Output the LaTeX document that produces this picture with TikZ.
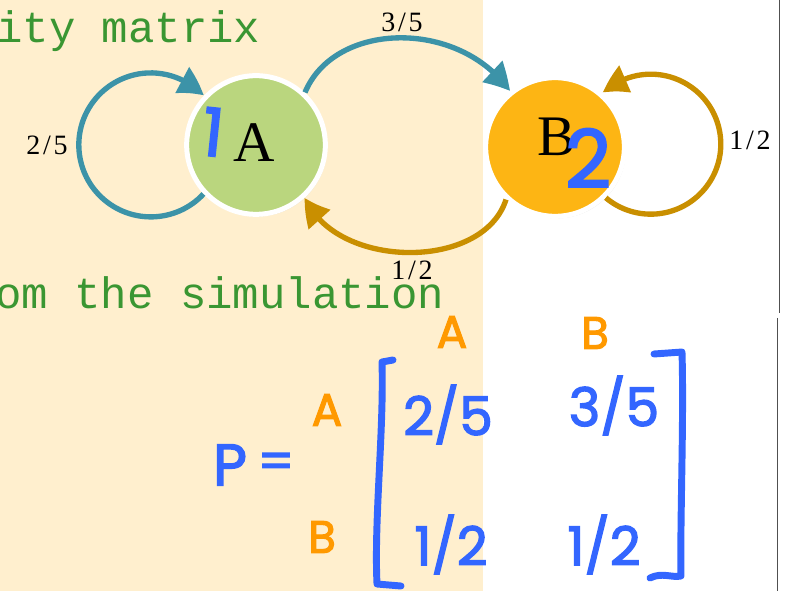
\documentclass[tikz,border=0pt]{standalone}
\usepackage{fontspec}
\setmainfont{Liberation Serif}
\newfontfamily\hand{Poppins}[FakeBold=2.5]
\newfontfamily\monofont{Liberation Mono}
\usetikzlibrary{arrows.meta,shadows,bending}
\definecolor{bg}{RGB}{255,239,206}
\definecolor{txtgreen}{RGB}{58,150,50}
\definecolor{nodegreen}{RGB}{186,214,126}
\definecolor{nodeorange}{RGB}{253,181,20}
\definecolor{teal}{RGB}{60,147,168}
\definecolor{gold}{RGB}{201,143,0}
\definecolor{penblue}{RGB}{51,102,255}
\definecolor{penorange}{RGB}{255,153,0}
\definecolor{rulegray}{RGB}{80,80,80}
\tikzset{
  monotext/.style={font=\monofont\fontsize{33pt}{36pt}\selectfont, text=txtgreen, anchor=base west, inner sep=0pt},
  statecirc/.style={circle, draw=white, line width=3.75pt, minimum size=104pt, inner sep=0pt,
    drop shadow={opacity=0.25, shadow xshift=1.2pt, shadow yshift=-1.5pt}},
  stateletter/.style={font=\fontsize{43pt}{45pt}\selectfont, inner sep=0pt, text depth=0pt},
  problabel/.style={font=\fontsize{21pt}{23pt}\selectfont, inner sep=0pt, text depth=0pt},
  tealarrow/.style={draw=teal, line width=4pt, -{Triangle[length=20pt,width=21pt,bend]}, fill=none},
  goldarrow/.style={draw=gold, line width=4pt, -{Triangle[length=20pt,width=21pt,bend]}, fill=none},
  handblue/.style={font=\hand\fontsize{40pt}{44pt}\selectfont, text=penblue, inner sep=0pt, text depth=0pt},
  handorange/.style={font=\hand\fontsize{34pt}{36pt}\selectfont, text=penorange, inner sep=0pt, text depth=0pt},
  penstroke/.style={draw=penblue, line width=5.2pt, line cap=round, line join=round},
  rule/.style={draw=rulegray, line width=1.2pt}
}
\begin{document}
\begin{tikzpicture}[x=0.75pt,y=-0.75pt]
\useasboundingbox (0,0) rectangle (789,591);
\clip (0,0) rectangle (789,591);
\fill[bg] (0,0) rectangle (483,591);
\draw[rule] (779.5,0) -- (779.5,313);
\draw[rule] (777.5,318) -- (777.5,591);

% green background text
\node[monotext] (t1) at (-4,43) {ity matrix};
\node[monotext] (t2) at (-5,309) {om the simulation};

% states
\node[statecirc, fill=nodegreen] (A) at (256,145) {};
\node[statecirc, fill=nodeorange] (B) at (555,147) {};
\node[stateletter] (Al) at (254,143) {A};
\node[stateletter] (Bl) at (557,137) {B};
\node[handblue, font=\hand\fontsize{50pt}{52pt}\selectfont, rotate=-6] (one) at (213,132) {1};
\node[handblue, font=\hand\fontsize{60pt}{62pt}\selectfont] (two) at (588,158) {2};

% transitions
\draw[tealarrow] (A.223) arc[start angle=43, end angle=317, radius=72];
\draw[tealarrow] (A.47) .. controls +(30,-72) and +(-50,-72) .. (B.129);
\draw[goldarrow] (B.227) .. controls +(-23,72) and +(30,72) .. (A.313);
\draw[goldarrow] (B.315) arc[start angle=130, end angle=-133, radius=70];

\node[problabel] (l25) at (47,145) {2\kern2pt/\kern2pt5};
\node[problabel] (l35) at (402,22) {3\kern2pt/\kern2pt5};
\node[problabel] (l12a) at (412,270) {1\kern2pt/\kern2pt2};
\node[problabel] (l12b) at (750,140) {1\kern2pt/\kern2pt2};

% matrix
\node[handblue, font=\hand\fontsize{44pt}{46pt}\selectfont] (P) at (230,465) {P};
\node[handblue, font=\hand\fontsize{38pt}{40pt}\selectfont] (eq) at (276,466) {=};
\node[handorange] (rA) at (327,410) {A};
\node[handorange] (rB) at (322,537) {B};
\node[handorange] (cA) at (452,332) {A};
\node[handorange] (cB) at (595,333) {B};
\node[handblue] (m11) at (448,410) {2/5};
\node[handblue] (m12) at (614,401) {3/5};
\node[handblue] (m21) at (451,540) {1/2};
\node[handblue] (m22) at (604,540) {1/2};

\draw[penstroke] (393,360) -- (382,362) .. controls (384,430) and (374,520) .. (377,584) -- (401,586);
\draw[penstroke] (654,354) -- (682,352) .. controls (684,420) and (680,520) .. (681,576) .. controls (672,578) and (662,572) .. (650,578);
\end{tikzpicture}
\end{document}
